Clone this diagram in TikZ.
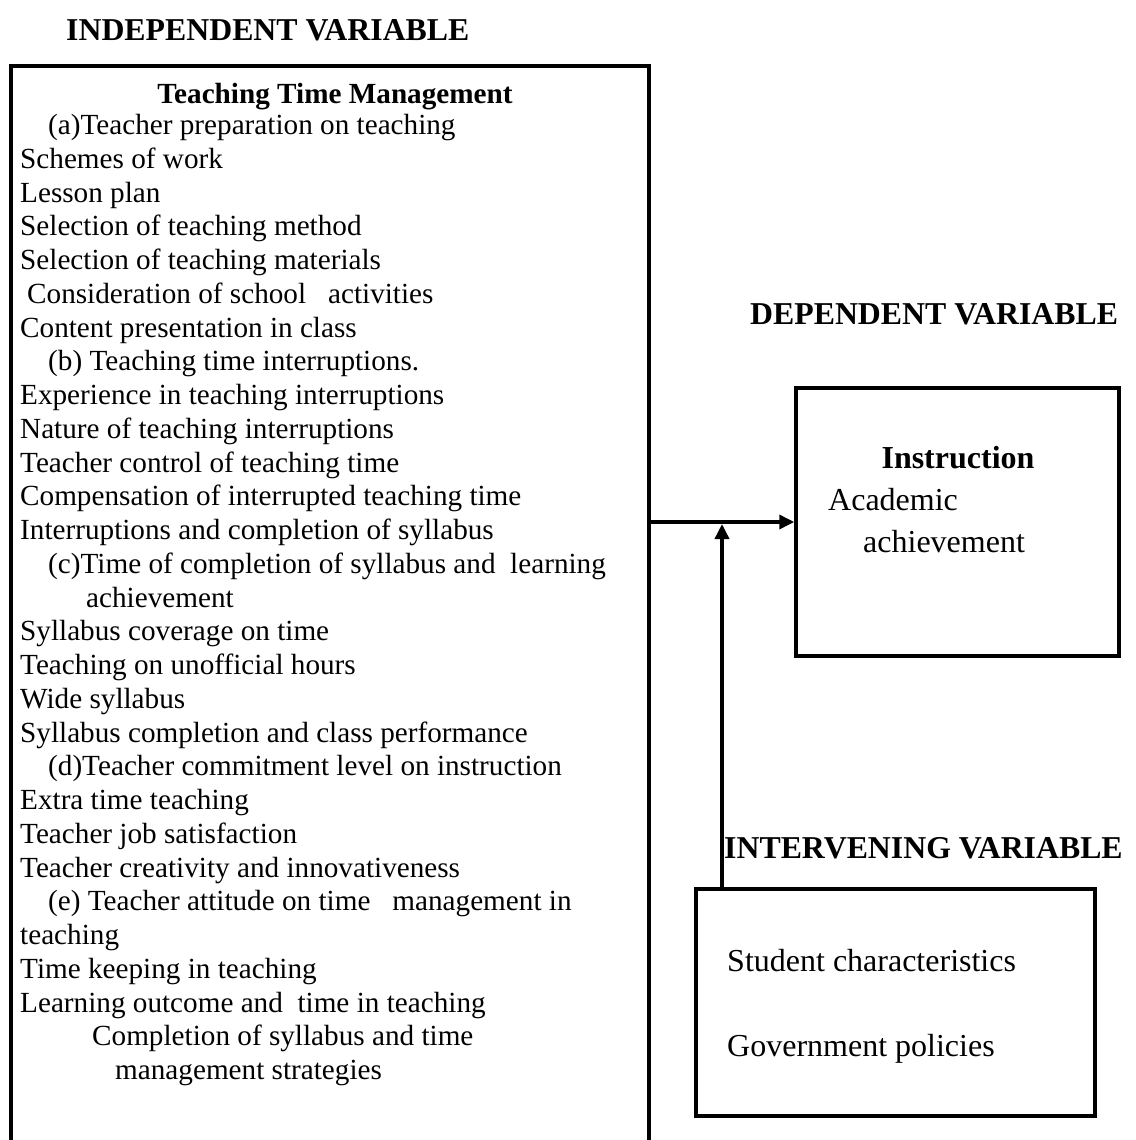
\documentclass[tikz,border=0pt]{standalone}
\usepackage{fontspec}
\setmainfont{Liberation Serif}
\usetikzlibrary{arrows.meta,positioning,calc}

\begin{document}
\begin{tikzpicture}[x=1pt, y=-1pt, >={Triangle[length=15pt,width=14pt]},
  every node/.style={inner sep=0pt},
  heading/.style={font=\fontsize{31.8}{36}\selectfont\bfseries, anchor=base west},
  item/.style={font=\fontsize{29.2}{34}\selectfont, anchor=base west},
  bigitem/.style={font=\fontsize{32}{38}\selectfont, anchor=base west},
  box/.style={draw, line width=3.5pt},
  link/.style={->, line width=3.5pt}]
\useasboundingbox (0,0) rectangle (1135,1140);

% headings
\node[heading] (indeptitle) at (66,41) {INDEPENDENT VARIABLE};
\node[heading] (deptitle) at (750,324) {DEPENDENT VARIABLE};
\node[heading] (intertitle) at (724,858) {INTERVENING VARIABLE};

% independent variable: box open at the bottom
\node[minimum width=638pt, minimum height=1074pt] (indep) at (330,603) {};
\draw[line width=3.5pt] (indep.south west) -- (indep.north west) -- (indep.north east) -- (indep.south east);
\node[item, font=\fontsize{29.2}{34}\selectfont\bfseries, anchor=base] (tmtitle) at (335,103) {Teaching Time Management};
\foreach \ind/\txt [count=\i] in {
  48/(a)Teacher preparation on teaching,
  20/Schemes of work,
  20/Lesson plan,
  20/Selection of teaching method,
  20/Selection of teaching materials,
  27/Consideration of school\ \ \ activities,
  20/Content presentation in class,
  48/(b) Teaching time interruptions.,
  20/Experience in teaching interruptions,
  20/Nature of teaching interruptions,
  20/Teacher control of teaching time,
  20/Compensation of interrupted teaching time,
  20/Interruptions and completion of syllabus,
  48/(c)Time of completion of syllabus and\ \ learning,
  86/achievement,
  20/Syllabus coverage on time,
  20/Teaching on unofficial hours,
  20/Wide syllabus,
  20/Syllabus completion and class performance,
  48/(d)Teacher commitment level on instruction,
  20/Extra time teaching,
  20/Teacher job satisfaction,
  20/Teacher creativity and innovativeness,
  48/(e) Teacher attitude on time\ \ \ management in,
  20/teaching,
  20/Time keeping in teaching,
  20/Learning outcome and\ \ time in teaching,
  92/Completion of syllabus and time,
  115/management strategies}
  \node[item] (line\i) at (\ind,134.5+33.75*\i-33.75) {\txt};

% dependent variable
\node[box, minimum width=323pt, minimum height=268pt] (dep) at (957.5,522) {};
\node[bigitem, font=\fontsize{32}{38}\selectfont\bfseries, anchor=base] (instr) at (958,468) {Instruction};
\node[bigitem] (acad) at (828,510) {Academic};
\node[bigitem] (achv) at (863,552) {achievement};

% intervening variable
\node[box, minimum width=399pt, minimum height=227pt] (interv) at (895.5,1002.5) {};
\node[bigitem] (student) at (727,971) {Student characteristics};
\node[bigitem] (policy) at (727,1056) {Government policies};

% connectors
\coordinate (join) at (722,524);
\draw[link] (indep.east |- dep.west) -- (dep.west);
\draw[link] (interv.north -| join) -- (join);
\end{tikzpicture}
\end{document}
